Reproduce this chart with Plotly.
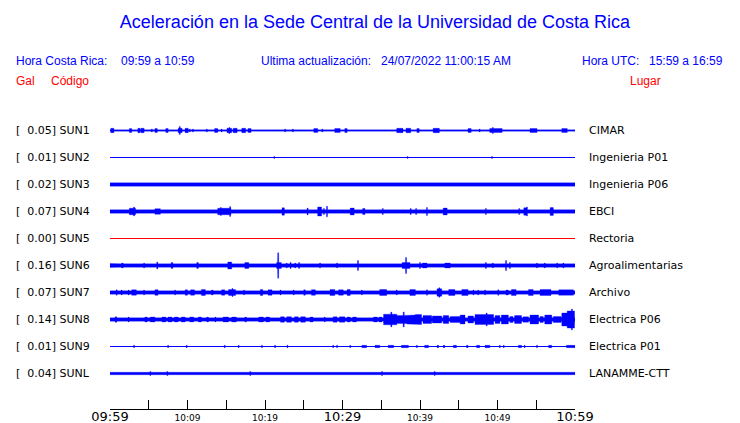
import numpy as np
import plotly.graph_objects as go

# page body margin of the html page (the figure div sits 8px in from the window corner)
PAGE_OFF = 8
WIN_W, WIN_H = 740, 423
FW, FH = WIN_W - PAGE_OFF, WIN_H - PAGE_OFF

# ---------------- data ----------------
CODES = ["SUN1", "SUN2", "SUN3", "SUN4", "SUN5", "SUN6", "SUN7", "SUN8", "SUN9", "SUNL"]
GAL_MAX = [0.05, 0.01, 0.02, 0.07, 0.00, 0.16, 0.07, 0.14, 0.01, 0.04]
PLACES = ["CIMAR", "Ingenieria P01", "Ingenieria P06", "EBCI", "Rectoria",
          "Agroalimentarias", "Archivo", "Electrica P06", "Electrica P01", "LANAMME-CTT"]
TRACE_COLORS = ["#0000ff", "#0000ff", "#0000ff", "#0000ff", "#ff0000",
                "#0000ff", "#0000ff", "#0000ff", "#0000ff", "#0000ff"]

# minutes after 09:59 (local time); tick every 5 minutes
TICK_MIN = [0, 5, 10, 15, 20, 25, 30, 35, 40, 45, 50, 55, 60]
TICK_TEXT = ["09:59", "", "10:09", "", "10:19", "", "10:29", "", "10:39", "", "10:49", "", "10:59"]
TICK_BIG = [True, False, False, False, False, False, True, False, False, False, False, False, True]

# background half-amplitude of each trace (gal)
BASE_AMP = [0.008, 0.0, 0.020, 0.021, 0.0, 0.020, 0.020, 0.020, 0.0, 0.015]

# bursts: (start minute, end minute, half-amplitude gal)
SUN1_EV = [(0.1, 0.5, 0.027), (0.9, 0.9, 0.015), (1.4, 1.6, 0.015), (2.5, 2.8, 0.024), (3.2, 3.2, 0.015),
           (3.6, 3.9, 0.027), (4.0, 4.4, 0.027), (5.4, 5.4, 0.018), (5.8, 6.1, 0.024), (6.3, 6.3, 0.015),
           (7.2, 7.5, 0.024), (8.8, 9.3, 0.027), (9.0, 9.0, 0.049), (9.7, 10.1, 0.027), (10.3, 10.3, 0.018),
           (10.7, 10.7, 0.018), (12.5, 12.5, 0.018), (13.5, 13.9, 0.024), (14.4, 14.4, 0.018), (15.1, 15.7, 0.027),
           (15.4, 15.4, 0.037), (15.9, 16.4, 0.027), (17.0, 17.5, 0.027), (17.8, 18.2, 0.024), (19.0, 19.0, 0.015),
           (19.2, 19.2, 0.015), (19.6, 19.6, 0.015), (20.0, 20.0, 0.015), (20.4, 20.4, 0.015), (20.9, 20.9, 0.015),
           (21.8, 21.8, 0.015), (22.6, 22.6, 0.018), (23.6, 23.6, 0.018), (26.3, 26.8, 0.024), (27.4, 27.4, 0.018),
           (29.0, 29.7, 0.024), (30.3, 30.6, 0.024), (31.2, 31.2, 0.015), (31.9, 31.9, 0.015), (33.8, 33.8, 0.012),
           (35.1, 35.1, 0.015), (37.0, 37.8, 0.027), (38.2, 38.8, 0.027), (39.6, 39.9, 0.024), (40.8, 40.8, 0.015),
           (41.3, 41.3, 0.015), (41.7, 42.5, 0.027), (43.9, 43.9, 0.015), (44.3, 44.3, 0.015), (44.9, 44.9, 0.015),
           (45.7, 45.7, 0.015), (46.2, 46.6, 0.024), (47.4, 47.4, 0.015), (47.7, 47.7, 0.018), (49.0, 50.6, 0.024),
           (49.4, 49.4, 0.037), (52.4, 52.4, 0.015), (53.2, 53.2, 0.015), (54.2, 55.1, 0.024), (56.4, 56.4, 0.015),
           (57.4, 57.4, 0.015), (58.3, 59.0, 0.024), (59.7, 59.7, 0.015)]
SUN2_EV = [(21.2, 21.2, 0.012), (38.4, 38.4, 0.012), (49.3, 49.3, 0.012)]
SUN3_EV = [(4.9, 4.9, 0.026), (29.8, 31.2, 0.024)]
SUN4_EV = [(2.5, 3.3, 0.040), (3.1, 3.1, 0.055), (5.8, 6.5, 0.035), (6.7, 6.7, 0.030), (9.3, 9.3, 0.030),
           (12.5, 12.5, 0.030), (13.9, 15.6, 0.040), (14.3, 14.3, 0.050), (15.5, 15.5, 0.060), (19.0, 19.0, 0.030),
           (22.2, 22.5, 0.045), (24.8, 24.8, 0.030), (25.5, 25.5, 0.042), (26.8, 27.3, 0.055), (27.6, 27.6, 0.037),
           (28.0, 28.0, 0.065), (31.0, 31.5, 0.042), (32.6, 32.9, 0.037), (35.2, 35.2, 0.037), (38.8, 38.8, 0.037),
           (39.5, 39.5, 0.037), (40.9, 40.9, 0.049), (43.0, 43.5, 0.042), (44.1, 44.1, 0.030), (45.4, 45.4, 0.030),
           (46.8, 46.8, 0.030), (48.5, 48.5, 0.037), (51.9, 52.1, 0.030), (52.8, 52.8, 0.037), (53.4, 53.8, 0.045),
           (53.8, 53.8, 0.055), (54.8, 54.8, 0.030), (56.1, 56.1, 0.030), (56.8, 57.2, 0.049)]
SUN5_EV = []
SUN6_EV = [(0.0, 1.0, 0.024), (1.5, 1.7, 0.030), (2.8, 4.1, 0.022), (4.4, 4.4, 0.030), (6.1, 6.1, 0.043),
           (6.8, 6.8, 0.027), (7.9, 8.1, 0.037), (8.7, 9.7, 0.024), (10.1, 10.7, 0.026), (11.2, 11.4, 0.037),
           (12.3, 12.3, 0.027), (13.8, 13.8, 0.027), (15.2, 15.7, 0.043), (17.4, 17.9, 0.037), (19.1, 19.1, 0.027),
           (21.5, 22.1, 0.037), (21.7, 21.7, 0.155), (22.8, 22.8, 0.030), (23.3, 23.3, 0.037), (23.9, 23.9, 0.030),
           (24.4, 24.4, 0.037), (27.1, 27.1, 0.030), (29.3, 29.3, 0.030), (32.0, 32.0, 0.061), (33.2, 34.2, 0.024),
           (34.6, 35.5, 0.024), (37.7, 38.7, 0.037), (38.2, 38.2, 0.098), (40.0, 40.0, 0.037), (40.3, 40.9, 0.030),
           (43.2, 43.9, 0.030), (45.2, 46.1, 0.024), (46.7, 47.4, 0.024), (48.5, 48.5, 0.037), (49.4, 49.4, 0.030),
           (51.1, 51.1, 0.061), (51.6, 51.6, 0.037), (55.1, 55.1, 0.030), (56.1, 56.1, 0.030), (57.7, 57.7, 0.030),
           (58.5, 58.5, 0.030)]
SUN7_EV = [(0.86, 0.86, 0.033), (1.5, 1.5, 0.030), (2.4, 2.4, 0.030), (2.8, 3.4, 0.033), (4.4, 4.4, 0.030),
           (5.8, 6.2, 0.035), (8.4, 8.4, 0.030), (9.7, 10.0, 0.033), (10.4, 10.9, 0.033), (11.8, 12.3, 0.037),
           (13.1, 13.3, 0.030), (14.4, 14.8, 0.033), (15.3, 16.2, 0.037), (15.8, 15.8, 0.049), (17.3, 17.3, 0.030),
           (19.4, 19.7, 0.037), (20.4, 20.9, 0.033), (22.0, 22.0, 0.030), (23.7, 23.7, 0.030), (25.0, 25.2, 0.033),
           (26.0, 26.5, 0.035), (28.4, 29.0, 0.037), (29.5, 30.1, 0.033), (30.6, 31.0, 0.037), (32.5, 32.5, 0.030),
           (34.8, 35.7, 0.037), (37.0, 37.0, 0.030), (38.7, 39.4, 0.037), (40.9, 40.9, 0.033), (42.2, 42.8, 0.045),
           (42.5, 42.5, 0.058), (43.7, 44.5, 0.037), (45.4, 46.2, 0.037), (46.9, 46.9, 0.030), (47.5, 47.5, 0.030),
           (48.4, 48.4, 0.030), (50.1, 50.1, 0.035), (51.1, 51.4, 0.030), (51.8, 52.4, 0.037), (54.0, 54.6, 0.037),
           (55.5, 56.9, 0.037), (57.9, 59.8, 0.033)]
SUN8_EV = [(0.65, 0.86, 0.033), (2.4, 2.4, 0.030), (4.5, 4.8, 0.030), (5.2, 5.8, 0.030), (6.7, 7.2, 0.030),
           (7.5, 8.0, 0.030), (8.3, 8.8, 0.030), (9.2, 9.7, 0.030), (10.3, 10.8, 0.030), (11.4, 11.8, 0.030),
           (12.5, 12.7, 0.030), (13.6, 13.6, 0.030), (14.6, 15.3, 0.030), (15.7, 16.3, 0.030), (17.4, 17.6, 0.030),
           (19.2, 19.8, 0.030), (20.1, 20.6, 0.030), (22.0, 22.5, 0.033), (22.8, 23.4, 0.035), (23.0, 23.0, 0.043),
           (23.8, 24.3, 0.033), (24.6, 25.2, 0.033), (25.8, 26.2, 0.030), (27.7, 27.7, 0.030), (28.8, 29.3, 0.033),
           (29.6, 30.3, 0.033), (30.6, 31.0, 0.030), (31.3, 31.8, 0.030), (32.3, 32.6, 0.027), (33.2, 33.6, 0.027),
           (34.0, 34.5, 0.030), (34.7, 35.1, 0.030),
           (35.3, 37.0, 0.065), (36.3, 36.3, 0.090), (37.0, 38.3, 0.050), (37.9, 37.9, 0.092),
           (38.3, 39.4, 0.055), (39.4, 40.2, 0.061), (40.4, 41.5, 0.049), (41.6, 42.8, 0.043), (43.0, 43.7, 0.049),
           (43.9, 45.2, 0.037), (45.2, 45.8, 0.055), (46.2, 46.9, 0.043), (47.1, 49.5, 0.061), (48.6, 48.6, 0.079),
           (49.7, 50.3, 0.049), (50.5, 51.4, 0.055), (51.6, 52.0, 0.037), (52.2, 53.1, 0.049), (53.3, 54.0, 0.033),
           (54.2, 55.3, 0.055), (55.5, 55.9, 0.037), (56.1, 57.0, 0.055), (57.2, 58.2, 0.037), (58.3, 59.0, 0.080),
           (59.0, 59.95, 0.105), (59.6, 59.6, 0.128)]
SUN9_EV = [(3.1, 3.1, 0.016), (7.5, 7.5, 0.014), (9.9, 9.9, 0.014), (14.8, 14.8, 0.016), (16.6, 16.6, 0.014),
           (19.6, 19.6, 0.014), (21.3, 21.3, 0.016), (22.9, 22.9, 0.016), (28.8, 28.8, 0.014), (29.3, 29.3, 0.014),
           (31.0, 31.0, 0.014), (32.5, 33.1, 0.014), (34.2, 34.8, 0.014), (35.9, 36.6, 0.014), (37.6, 38.5, 0.014),
           (39.6, 39.6, 0.014), (40.6, 41.1, 0.014), (42.2, 42.4, 0.014), (43.0, 43.2, 0.014), (44.3, 44.7, 0.014),
           (46.0, 46.2, 0.014), (47.3, 47.7, 0.014), (48.4, 49.0, 0.014), (50.3, 50.3, 0.014), (50.8, 50.8, 0.014),
           (52.7, 53.1, 0.014), (53.5, 53.5, 0.014), (55.1, 55.1, 0.014), (56.6, 57.0, 0.014), (58.9, 60.0, 0.014)]
SUNL_EV = [(5.2, 5.2, 0.025), (7.4, 7.4, 0.025), (18.1, 18.1, 0.025), (35.1, 35.1, 0.025), (41.9, 41.9, 0.025)]

EVENTS = [SUN1_EV, SUN2_EV, SUN3_EV, SUN4_EV, SUN5_EV, SUN6_EV, SUN7_EV, SUN8_EV, SUN9_EV, SUNL_EV]

# ---------------- layout helpers (window pixel positions) ----------------
ROW_PX = 27.0
GAL_PX = 82.0                      # drawing scale of the records
K = GAL_PX / ROW_PX                # rows per gal
PLOT_L, PLOT_R, PLOT_T, PLOT_B = 110, 575, 115, 409
ROW0_PX = 130.5
y_top = (ROW0_PX - PLOT_T) / ROW_PX
y_bot = -(PLOT_B - ROW0_PX) / ROW_PX


def px(x):
    return (x - PAGE_OFF) / FW


def py(y):
    return 1 - (y - PAGE_OFF) / FH


fig = go.Figure()

grid = np.round(np.arange(0, 60.0001, 0.02), 4)
for i, code in enumerate(CODES):
    off = -i
    col = TRACE_COLORS[i]
    env = np.full(grid.shape, BASE_AMP[i])
    for (t0, t1, a) in EVENTS[i]:
        if t1 - t0 < 0.1:
            c = 0.5 * (t0 + t1)
            t0, t1 = c - 0.07, c + 0.07
        m = (grid >= t0 - 1e-9) & (grid <= t1 + 1e-9)
        env[m] = np.maximum(env[m], a)
    fig.add_trace(go.Scatter(x=[0, 60], y=[off, off], mode="lines",
                             line=dict(color=col, width=1), hoverinfo="skip", showlegend=False))
    if env.max() > 0:
        xs = np.concatenate([grid, grid[::-1]])
        ys = np.concatenate([off + K * env, (off - K * env)[::-1]])
        fig.add_trace(go.Scatter(x=xs, y=ys, mode="lines", fill="toself", fillcolor=col,
                                 line=dict(color=col, width=0.3), hoverinfo="skip",
                                 showlegend=False, name=code))

ann = []
LBL_FONT = dict(family="DejaVu Sans", size=11, color="black")
for i, code in enumerate(CODES):
    yy = ROW0_PX + ROW_PX * i
    ann.append(dict(x=px(14), y=py(yy), xref="paper", yref="paper", xanchor="left", yanchor="middle",
                    showarrow=False, font=LBL_FONT,
                    text="[\u00a0\u00a0%.2f] %s" % (GAL_MAX[i], code)))
    ann.append(dict(x=px(587), y=py(yy), xref="paper", yref="paper", xanchor="left", yanchor="middle",
                    showarrow=False, font=LBL_FONT, text=PLACES[i]))

HDR = dict(family="Liberation Sans", size=12, color="#0000ff")
RED = dict(family="Liberation Sans", size=12, color="#ff0000")
for (x, y, t, f, anc) in [
    (14, 61, "Hora Costa Rica:", HDR, "left"),
    (119, 61, "09:59 a 10:59", HDR, "left"),
    (259, 61, "Ultima actualización:", HDR, "left"),
    (379, 61, "24/07/2022 11:00:15 AM", HDR, "left"),
    (580, 61, "Hora UTC:", HDR, "left"),
    (725, 61, "15:59 a 16:59", HDR, "right"),
    (14, 81, "Gal", RED, "left"),
    (49, 81, "Código", RED, "left"),
    (663, 81, "Lugar", RED, "right"),
]:
    ann.append(dict(x=px(x), y=py(y), xref="paper", yref="paper", xanchor=anc, yanchor="middle",
                    showarrow=False, font=f, text=t))

ticktext = []
for t, big in zip(TICK_TEXT, TICK_BIG):
    if t and big:
        ticktext.append("<span style='font-size:13px'>%s</span>" % t)
    else:
        ticktext.append(t)

fig.update_layout(
    template="none",
    width=FW, height=FH,
    margin=dict(l=0, r=0, t=0, b=0, pad=0, autoexpand=False),
    paper_bgcolor="white", plot_bgcolor="white",
    title=dict(text="Aceleración en la Sede Central de la Universidad de Costa Rica",
               x=px(375), xanchor="center", y=py(22), yanchor="middle",
               font=dict(family="Liberation Sans", size=18, color="#0000ff")),
    xaxis=dict(domain=[px(PLOT_L), px(PLOT_R)], range=[0, 60], showgrid=False, zeroline=False,
               automargin=False,
               showline=True, linecolor="black", linewidth=1,
               ticks="inside", ticklen=9, tickwidth=1, tickcolor="black",
               tickmode="array", tickvals=TICK_MIN, ticktext=ticktext,
               tickfont=dict(family="DejaVu Sans", size=9, color="black"), ticklabelstandoff=0),
    yaxis=dict(domain=[1 - (PLOT_B - PAGE_OFF) / FH, 1 - (PLOT_T - PAGE_OFF) / FH],
               range=[y_bot, y_top], visible=False, automargin=False),
    annotations=ann,
    showlegend=False,
)

fig.write_html("out.html")
